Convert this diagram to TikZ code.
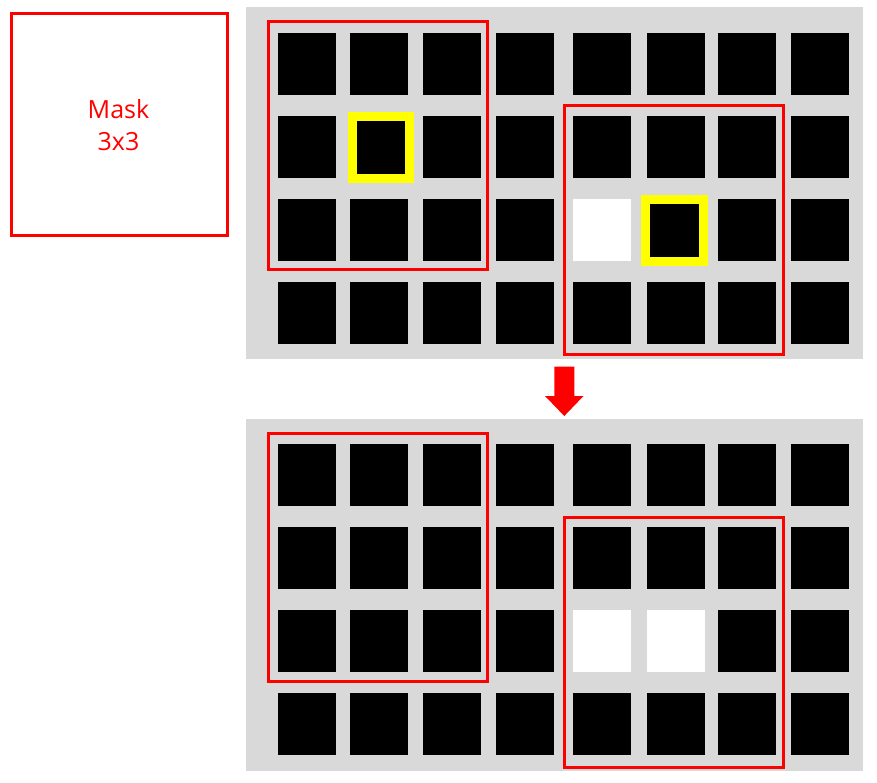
\documentclass[tikz,border=0pt]{standalone}
\usepackage{fontspec}
\setmainfont{Open Sans}
\definecolor{panelgray}{HTML}{D9D9D9}
\definecolor{hlred}{HTML}{FF0000}
\definecolor{hlyellow}{HTML}{FFFF00}
\begin{document}
\begin{tikzpicture}[x=1pt,y=-1pt,
  panel/.style={fill=panelgray},
  cell/.style={fill=black},
  emptycell/.style={fill=white},
  window/.style={draw=hlred,line width=3pt},
  focus/.style={draw=hlyellow,line width=9pt},
  masklabel/.style={text=hlred,align=center,font=\fontsize{25}{32}\selectfont}]
\useasboundingbox (0,0) rectangle (877,783);
\fill[white] (0,0) rectangle (877,783);
% mask box
\draw[window] (11,14) rectangle (227,236);
\node[masklabel] (mask) at (118.5,125) {Mask\\3x3};
% panels
\fill[panel] (246,7) rectangle (863,359);
\fill[panel] (246,419) rectangle (863,771);
% cells
\foreach \x in {278,350,423,496,573,647,718,791}
  \foreach \y in {33,116,199,282,444,527,610,693}
    \fill[cell] (\x,\y) rectangle ++(57.5,62);
% white cells
\fill[emptycell] (573,199) rectangle ++(57.5,62);
\fill[emptycell] (573,610) rectangle ++(57.5,62);
\fill[emptycell] (647,610) rectangle ++(57.5,62);
% yellow focus boxes
\draw[focus] (352.5,116.5) rectangle (409.5,178.5);
\draw[focus] (645.5,199.5) rectangle (703.3,261.3);
% red windows
\draw[window] (268.5,22) rectangle (487.5,270);
\draw[window] (564.5,105.5) rectangle (783.5,354.5);
\draw[window] (268.5,433.5) rectangle (487.5,681.5);
\draw[window] (564.5,517) rectangle (783.5,767);
% arrow
\fill[hlred] (554.3,366.7) -- (574.3,366.7) -- (574.3,396) -- (583.5,396)
  -- (564.3,416) -- (545,396) -- (554.3,396) -- cycle;
\end{tikzpicture}
\end{document}
